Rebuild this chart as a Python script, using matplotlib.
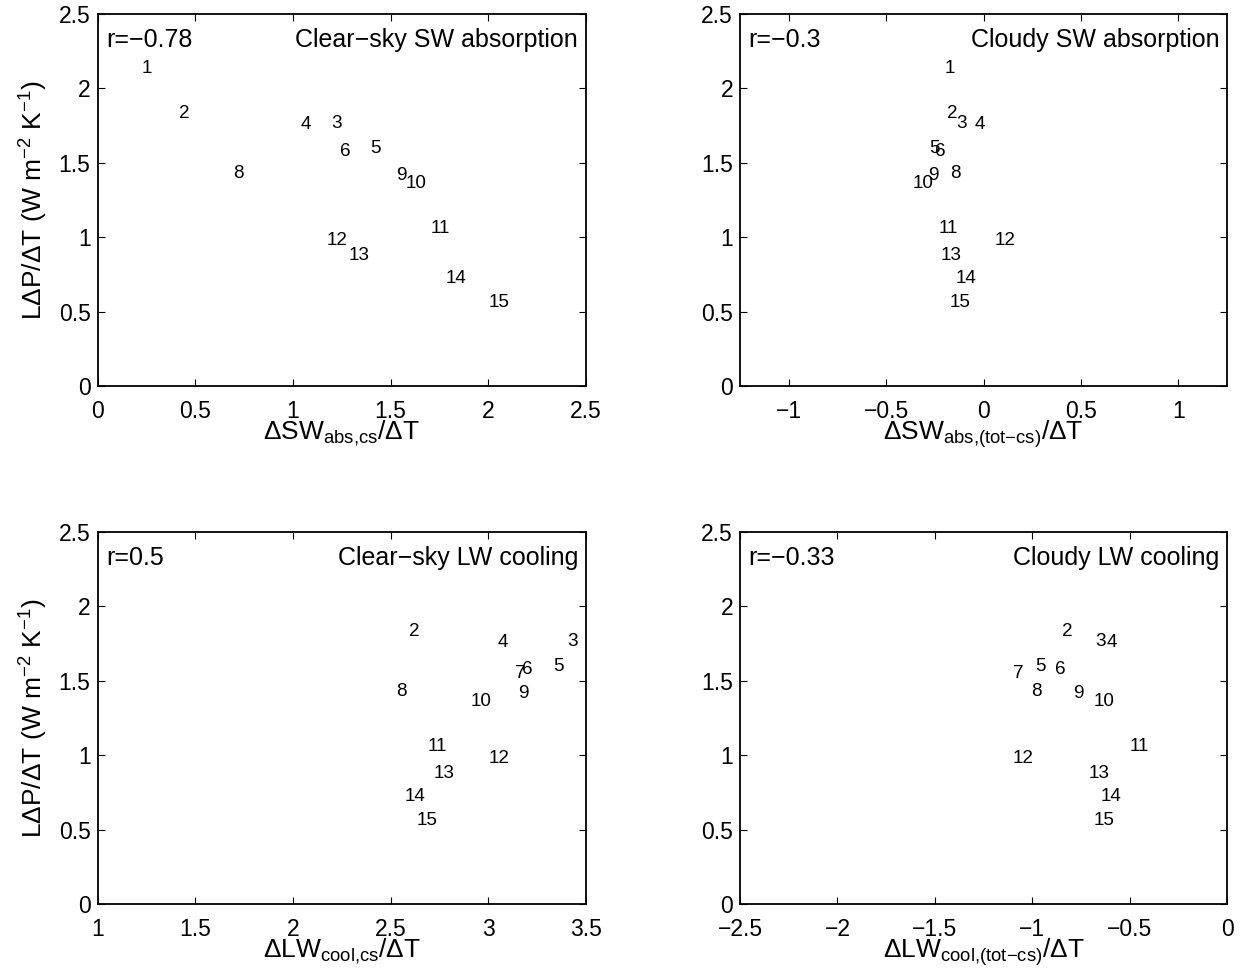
import numpy as np
import matplotlib
matplotlib.use("Agg")
import matplotlib.pyplot as plt
from matplotlib.ticker import FixedLocator, FuncFormatter

plt.rcParams['font.family'] = ['Liberation Sans', 'DejaVu Sans']
plt.rcParams['mathtext.fontset'] = 'custom'
plt.rcParams['mathtext.rm'] = 'Liberation Sans'
plt.rcParams['mathtext.it'] = 'Liberation Sans:italic'
plt.rcParams['mathtext.bf'] = 'Liberation Sans:bold'

nan = np.nan
MINUS = "\u2212"
models = [str(i) for i in range(1, 16)]

# L dP / dT (shared y values)
dP = [2.135, 1.830, 1.763, 1.756, 1.594, 1.577, 1.550, 1.426,
      1.417, 1.363, 1.056, 0.976, 0.880, 0.720, 0.563]

sw_cs = [0.224, 0.418, 1.198, 1.040, 1.398, 1.239, nan, 0.694,
         1.526, 1.579, 1.707, 1.175, 1.284, 1.780, 2.000]
sw_cld = [-0.200, -0.188, -0.139, -0.048, -0.279, -0.248, nan, -0.171,
          -0.282, -0.365, -0.228, 0.057, -0.220, -0.143, -0.174]
lw_cs = [nan, 2.594, 3.403, 3.049, 3.330, 3.170, 3.139, 2.526,
         3.153, 2.911, 2.690, 3.000, 2.719, 2.571, 2.634]
lw_cld = [nan, -0.849, -0.675, -0.618, -0.986, -0.883, -1.099, -1.008,
          -0.790, -0.684, -0.498, -1.100, -0.710, -0.647, -0.684]

r_texts = ["r=" + MINUS + "0.78", "r=" + MINUS + "0.3", "r=0.5",
           "r=" + MINUS + "0.33"]
titles = ["Clear" + MINUS + "sky SW absorption", "Cloudy SW absorption",
          "Clear" + MINUS + "sky LW cooling", "Cloudy LW cooling"]
xlabels = [r"$\mathregular{\Delta SW_{abs{,}cs}/\Delta T}$",
           r"$\mathregular{\Delta SW_{abs{,}(tot{" + MINUS + r"}cs)}/\Delta T}$",
           r"$\mathregular{\Delta LW_{cool{,}cs}/\Delta T}$",
           r"$\mathregular{\Delta LW_{cool{,}(tot{" + MINUS + r"}cs)}/\Delta T}$"]
xlims = [(0, 2.5), (-1.25, 1.25), (1, 3.5), (-2.5, 0)]
xticks = [[0, 0.5, 1, 1.5, 2, 2.5], [-1, -0.5, 0, 0.5, 1],
          [1, 1.5, 2, 2.5, 3, 3.5], [-2.5, -2, -1.5, -1, -0.5, 0]]
yticks = [0, 0.5, 1, 1.5, 2, 2.5]
ylabel = (r"$\mathregular{L\Delta P/\Delta T\ (W\ m^{" + MINUS + r"2}\ K^{"
          + MINUS + r"1})}$")
xdata = [sw_cs, sw_cld, lw_cs, lw_cld]

fig = plt.figure(figsize=(12.4, 9.76), dpi=100)
W, H = 1240.0, 976.0
boxes = [(97.5, 14, 586, 386), (740, 14, 1227, 386),
         (97.5, 532, 586, 904), (740, 532, 1227, 904)]

fmt = FuncFormatter(lambda v, p: ('%g' % v).replace('-', MINUS))

for i in range(4):
    l, t, r, b = boxes[i]
    ax = fig.add_axes([l / W, 1 - b / H, (r - l) / W, (b - t) / H])
    ax.set_xlim(*xlims[i])
    ax.set_ylim(0, 2.5)
    ax.xaxis.set_major_locator(FixedLocator(xticks[i]))
    ax.yaxis.set_major_locator(FixedLocator(yticks))
    ax.xaxis.set_major_formatter(fmt)
    ax.yaxis.set_major_formatter(fmt)
    ax.tick_params(direction='in', length=5, width=0.8, top=True, right=True,
                   labelsize=16.5, color='black')
    ax.tick_params(axis='x', pad=10)
    ax.tick_params(axis='y', pad=5)
    for s in ax.spines.values():
        s.set_linewidth(1.3)
    for m, xv, yv in zip(models, xdata[i], dP):
        if np.isfinite(xv):
            ax.text(xv, yv, m, ha='left', va='center', fontsize=13.6)
    ax.text(0.017, 0.93, r_texts[i], transform=ax.transAxes, ha='left',
            va='center', fontsize=18)
    ax.text(0.984, 0.93, titles[i], transform=ax.transAxes, ha='right',
            va='center', fontsize=18)
    ax.set_xlabel(xlabels[i], fontsize=19, labelpad=-3)
    if i % 2 == 0:
        ax.set_ylabel(ylabel, fontsize=19, labelpad=6)

fig.savefig("out.png", dpi=100)
